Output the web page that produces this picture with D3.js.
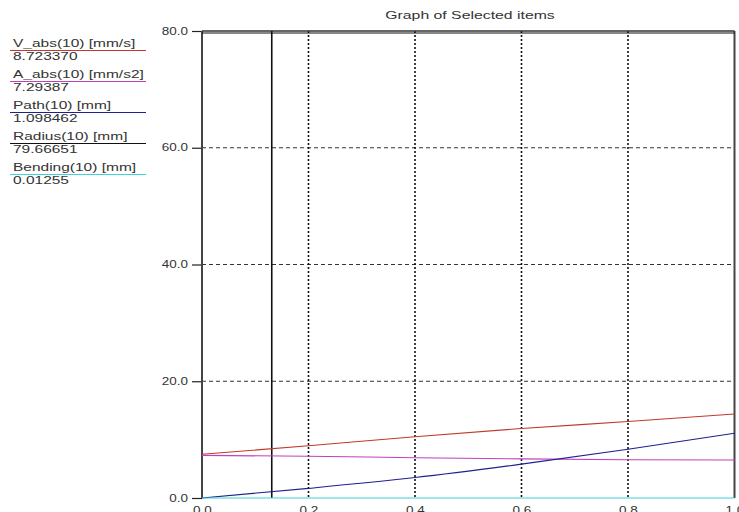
<!DOCTYPE html>
<html>
<head>
<meta charset="utf-8">
<script src="https://cdn.jsdelivr.net/npm/d3@7"></script>
<style>
  body { margin: 0; background: #fff; }
  text { font-family: "Liberation Sans", Arial, sans-serif; }
</style>
</head>
<body>
<div id="chart"></div>
<script>
// sampled x positions along the run
const xs = [0, 0.2, 0.4, 0.6, 0.8, 1.0];
const vAbs = [7.5, 8.95, 10.5, 11.9, 13.1, 14.4];
const aAbs = [7.3, 7.15, 6.9, 6.7, 6.55, 6.5];
const path = [0, 1.65, 3.5, 5.8, 8.35, 11.1];
const radius = [79.67, 79.67, 79.67, 79.67, 79.67, 79.67];
const bending = [0.01, 0.01, 0.01, 0.01, 0.01, 0.01];

const seriesNames = ["V_abs(10) [mm/s]", "A_abs(10) [mm/s2]", "Path(10) [mm]", "Radius(10) [mm]", "Bending(10) [mm]"];
const seriesValues = ["8.723370", "7.29387", "1.098462", "79.66651", "0.01255"];
const seriesColors = ["#c0392b", "#c040c0", "#1f1f8f", "#111111", "#40d0d8"];
const seriesData = [vAbs, aAbs, path, radius, bending];

const xTicks = [0, 0.2, 0.4, 0.6, 0.8, 1.0];
const yTicks = [0, 20, 40, 60, 80];
const cursorX = 0.131;

const width = 739, height = 512;
const svg = d3.select("#chart").append("svg")
  .attr("width", width).attr("height", height);

const x = d3.scaleLinear().domain([0, 1]).range([202, 734.5]);
const y = d3.scaleLinear().domain([0, 80]).range([498, 31]);

// the original renders its text stretched sideways
const stretch = 1.55;

svg.append("text")
  .attr("transform", `translate(470,19) scale(1.58,1)`)
  .attr("text-anchor", "middle")
  .attr("font-size", 10).attr("fill", "#333")
  .text("Graph of Selected items");

// horizontal dashed grid
svg.append("g").selectAll("line")
  .data(yTicks.filter(d => d > 0 && d < 80))
  .enter().append("line")
  .attr("x1", x(0)).attr("x2", x(1))
  .attr("y1", d => y(d)).attr("y2", d => y(d))
  .attr("stroke", "#333").attr("stroke-width", 1)
  .attr("stroke-dasharray", "4,3");

// vertical dotted grid
svg.append("g").selectAll("line")
  .data(xTicks.filter(d => d > 0 && d < 1))
  .enter().append("line")
  .attr("x1", d => x(d)).attr("x2", d => x(d))
  .attr("y1", y(80)).attr("y2", y(0))
  .attr("stroke", "#111").attr("stroke-width", 1.6)
  .attr("stroke-dasharray", "2,2");

// y axis
const yAxis = d3.axisLeft(y).tickValues(yTicks).tickFormat(d3.format(".1f")).tickSize(10);
const ya = svg.append("g").attr("transform", `translate(${x(0)},0)`).call(yAxis);
ya.select(".domain").remove();
ya.selectAll(".tick line").attr("stroke", "#222").attr("stroke-width", 1.2);
ya.selectAll(".tick text").attr("font-size", 10).attr("fill", "#333")
  .attr("font-family", "Liberation Sans, Arial, sans-serif")
  .attr("x", 0).attr("transform", "translate(-14,0) scale(1.35,1)");

// x axis
const xAxis = d3.axisBottom(x).tickValues(xTicks).tickFormat(d3.format(".1f")).tickSize(0);
const xa = svg.append("g").attr("transform", `translate(0,${y(0)})`).call(xAxis);
xa.select(".domain").remove();
xa.selectAll(".tick text").attr("font-size", 10).attr("fill", "#333")
  .attr("font-family", "Liberation Sans, Arial, sans-serif")
  .attr("y", 9).attr("dy", "0.71em").attr("transform", "scale(1.35,1)");

// frame
svg.append("line").attr("x1", x(0)).attr("x2", x(0)).attr("y1", y(80)).attr("y2", y(0))
  .attr("stroke", "#444").attr("stroke-width", 2);
svg.append("line").attr("x1", x(0)).attr("x2", x(1)).attr("y1", y(80)).attr("y2", y(80))
  .attr("stroke", "#333").attr("stroke-width", 1.5);
svg.append("line").attr("x1", x(1)).attr("x2", x(1)).attr("y1", y(80)).attr("y2", y(0))
  .attr("stroke", "#444").attr("stroke-width", 2);

// cursor
svg.append("line").attr("x1", x(cursorX)).attr("x2", x(cursorX)).attr("y1", y(80)).attr("y2", y(0))
  .attr("stroke", "#111").attr("stroke-width", 1.6);

// series
const line = d3.line().x((d, i) => x(xs[i])).y(d => y(d)).curve(d3.curveMonotoneX);
svg.append("g").selectAll("path")
  .data(seriesData)
  .enter().append("path")
  .attr("d", d => line(d))
  .attr("fill", "none")
  .attr("stroke", (d, i) => seriesColors[i])
  .attr("stroke-width", 1.1);

// legend
const leg = svg.append("g").selectAll("g")
  .data(seriesNames)
  .enter().append("g")
  .attr("transform", (d, i) => `translate(0,${i * 31})`);
leg.append("text").attr("transform", `translate(13,47) scale(${stretch},1)`)
  .attr("font-size", 10).attr("fill", "#333").text(d => d);
leg.append("line").attr("x1", 10).attr("x2", 146).attr("y1", 50.5).attr("y2", 50.5)
  .attr("stroke", (d, i) => seriesColors[i]).attr("stroke-width", 1.2);
leg.append("text").attr("transform", `translate(13,59.5) scale(${stretch},1)`)
  .attr("font-size", 10).attr("fill", "#333").text((d, i) => seriesValues[i]);
</script>
</body>
</html>
